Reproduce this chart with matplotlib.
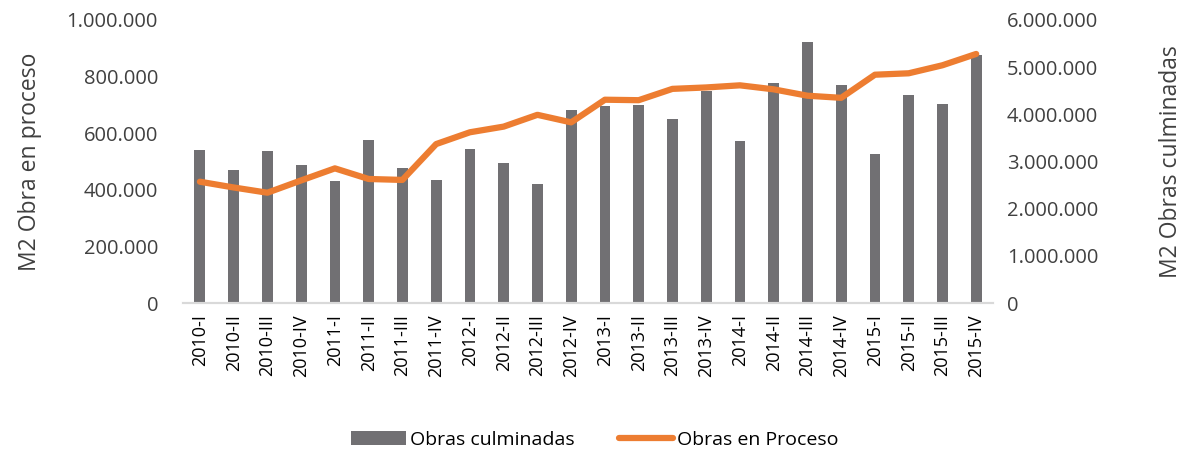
import matplotlib
matplotlib.use("Agg")
import matplotlib.pyplot as plt
from matplotlib.ticker import FuncFormatter

periods = ["2010-I", "2010-II", "2010-III", "2010-IV",
           "2011-I", "2011-II", "2011-III", "2011-IV",
           "2012-I", "2012-II", "2012-III", "2012-IV",
           "2013-I", "2013-II", "2013-III", "2013-IV",
           "2014-I", "2014-II", "2014-III", "2014-IV",
           "2015-I", "2015-II", "2015-III", "2015-IV"]

# bars, left axis
culminadas = [541000, 471000, 537000, 488000,
              430000, 575000, 476000, 435000,
              545000, 494000, 420000, 682000,
              695000, 698000, 651000, 749000,
              571000, 778000, 922000, 771000,
              528000, 734000, 704000, 876000]

# line, right axis
en_proceso = [2572000, 2450000, 2339000, 2600000,
              2855000, 2630000, 2610000, 3370000,
              3620000, 3740000, 3990000, 3830000,
              4310000, 4300000, 4540000, 4570000,
              4615000, 4530000, 4395000, 4350000,
              4840000, 4870000, 5040000, 5280000]

bar_color = "#717073"
line_color = "#ED7D31"
txt_color = "#404040"

plt.rcParams["font.family"] = ["Open Sans", "DejaVu Sans"]

def miles(v, pos):
    return f"{int(v):,}".replace(",", ".")

fig = plt.figure(figsize=(11.9, 4.51), dpi=100)
ax = fig.add_axes([0.1538, 0.328, 0.6807, 0.6277])
ax2 = ax.twinx()

x = list(range(len(periods)))
b = ax.bar(x, culminadas, width=0.32, color=bar_color, label="Obras culminadas", zorder=2)
l, = ax2.plot(x, en_proceso, color=line_color, lw=4.5, solid_capstyle="round",
              label="Obras en Proceso", zorder=3)

ax.set_xlim(-0.5, len(periods) - 0.5)
ax.set_ylim(0, 1000000)
ax2.set_ylim(0, 6000000)
ax.set_yticks(range(0, 1000001, 200000))
ax2.set_yticks(range(0, 6000001, 1000000))
ax.yaxis.set_major_formatter(FuncFormatter(miles))
ax2.yaxis.set_major_formatter(FuncFormatter(miles))

ax.set_xticks(x)
ax.set_xticklabels(periods, rotation=90, fontsize=13, color="black")
ax.tick_params(axis="x", length=0, pad=8)
ax.tick_params(axis="y", length=0, labelsize=14.5, colors=txt_color, pad=18)
ax2.tick_params(axis="y", length=0, labelsize=14.5, colors=txt_color, pad=10)

for a in (ax, ax2):
    for s in ["top", "right", "left"]:
        a.spines[s].set_visible(False)
    a.spines["bottom"].set_color("#d9d9d9")
    a.spines["bottom"].set_linewidth(1.5)

ax.set_ylabel("M2 Obra en proceso", fontsize=16.5, color=txt_color, labelpad=18)
ax2.set_ylabel("M2 Obras culminadas", fontsize=16.5, color=txt_color, labelpad=44)

ax2.set_zorder(ax.get_zorder() + 1)
ax2.patch.set_visible(False)

fig.legend([b, l], ["Obras culminadas", "Obras en Proceso"],
           loc="center", bbox_to_anchor=(0.5, 0.025), ncol=2, frameon=False,
           fontsize=14, handlelength=2.8, columnspacing=2.3, handletextpad=0.2)

fig.savefig("out.png", dpi=100)
